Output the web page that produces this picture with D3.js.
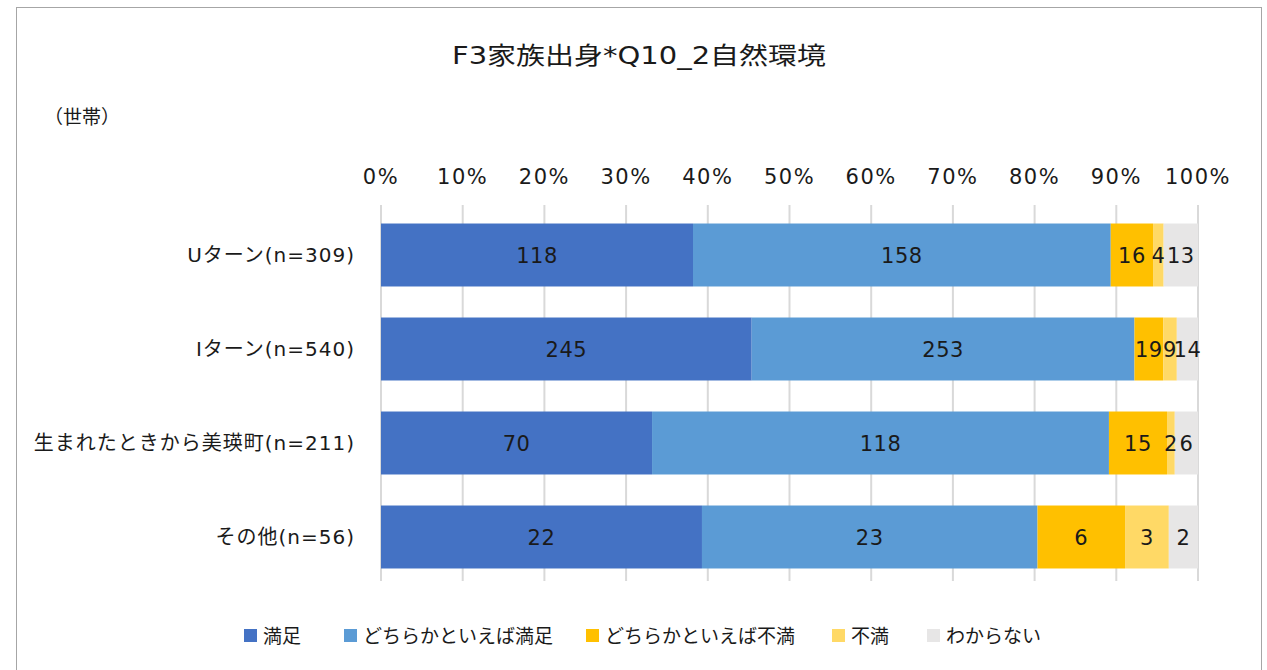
<!DOCTYPE html>
<html>
<head>
<meta charset="utf-8">
<script src="https://cdn.jsdelivr.net/npm/d3@7"></script>
<style>
  body { margin: 0; background: #fff; }
  svg text { font-family: "DejaVu Sans", "Noto Sans CJK JP", sans-serif; fill: #1a1a1a; }
</style>
</head>
<body>
<svg id="chart"></svg>
<script>
const categories = ["Uターン(n=309)", "Iターン(n=540)", "生まれたときから美瑛町(n=211)", "その他(n=56)"]
const seriesNames = ["満足", "どちらかといえば満足", "どちらかといえば不満", "不満", "わからない"]
const seriesColors = ["#4472c4", "#5b9bd5", "#ffc000", "#ffd966", "#e7e6e6"]
const manzoku = [118, 245, 70, 22]
const yaya_manzoku = [158, 253, 118, 23]
const yaya_fuman = [16, 19, 15, 6]
const fuman = [4, 9, 2, 3]
const wakaranai = [13, 14, 6, 2]
const tickLabels = ["0%", "10%", "20%", "30%", "40%", "50%", "60%", "70%", "80%", "90%", "100%"]

const W = 1267, H = 670
const svg = d3.select("#chart").attr("width", W).attr("height", H)

// cadre
svg.append("rect")
    .attr("x", 16.5).attr("y", 7.5)
    .attr("width", 1245).attr("height", 680)
    .attr("fill", "#fff").attr("stroke", "#a6a6a6")

const series = [manzoku, yaya_manzoku, yaya_fuman, fuman, wakaranai]
const rows = categories.map((c, i) => {
    const row = {cat: c}
    seriesNames.forEach((s, j) => row[s] = series[j][i])
    return row
})
const stacked = d3.stack().keys(seriesNames).offset(d3.stackOffsetExpand)(rows)

const x = d3.scaleLinear().domain([0, 1]).range([381, 1198])
const y = d3.scaleBand().domain(categories).range([208, 584]).paddingInner(0.33).paddingOuter(0.165)

// titre
svg.append("text").attr("x", 452).attr("y", 64)
    .style("font-size", "24px")
    .attr("textLength", 374).attr("lengthAdjust", "spacingAndGlyphs")
    .text("F3家族出身*Q10_2自然環境")

svg.append("text").attr("x", 44).attr("y", 124)
    .style("font-size", "19px").text("（世帯）")

// grille
const ticks = d3.range(0, 1.0001, 0.1)
svg.append("g").selectAll("line")
    .data(ticks).join("line")
    .attr("x1", d => x(d)).attr("x2", d => x(d))
    .attr("y1", 205).attr("y2", 581)
    .attr("stroke", "#d9d9d9").attr("stroke-width", 2)

svg.append("g").selectAll("text")
    .data(ticks).join("text")
    .attr("x", d => x(d)).attr("y", 184)
    .attr("text-anchor", "middle")
    .style("font-size", "21px").style("letter-spacing", "1.5px")
    .text((d, i) => tickLabels[i])

// barres
const groups = svg.append("g").selectAll("g")
    .data(stacked).join("g")
    .attr("fill", (d, i) => seriesColors[i])

groups.selectAll("rect")
    .data(d => d).join("rect")
    .attr("x", d => x(d[0]))
    .attr("y", d => y(d.data.cat))
    .attr("width", d => x(d[1]) - x(d[0]))
    .attr("height", y.bandwidth())

// étiquettes
stacked.forEach((s, j) => {
    svg.append("g").selectAll("text")
        .data(s).join("text")
        .attr("x", d => (x(d[0]) + x(d[1])) / 2)
        .attr("y", d => y(d.data.cat) + y.bandwidth() / 2 + 8)
        .attr("text-anchor", "middle")
        .style("font-size", "21px").style("letter-spacing", "0.5px")
        .text(d => d.data[s.key])
})

// catégories
svg.append("g").selectAll("text")
    .data(categories).join("text")
    .attr("x", 355)
    .attr("y", d => y(d) + y.bandwidth() / 2 + 7)
    .attr("text-anchor", "end")
    .style("font-size", "20px").style("letter-spacing", "1px")
    .text(d => d)

// légende
const legX = [244, 344, 586, 832, 927]
const leg = svg.append("g").selectAll("g")
    .data(seriesNames).join("g")
    .attr("transform", (d, i) => `translate(${legX[i]},636)`)
leg.append("rect").attr("x", 0).attr("y", -7).attr("width", 13).attr("height", 13)
    .attr("fill", (d, i) => seriesColors[i])
leg.append("text").attr("x", 19).attr("y", 7).style("font-size", "19px").text(d => d)
</script>
</body>
</html>
